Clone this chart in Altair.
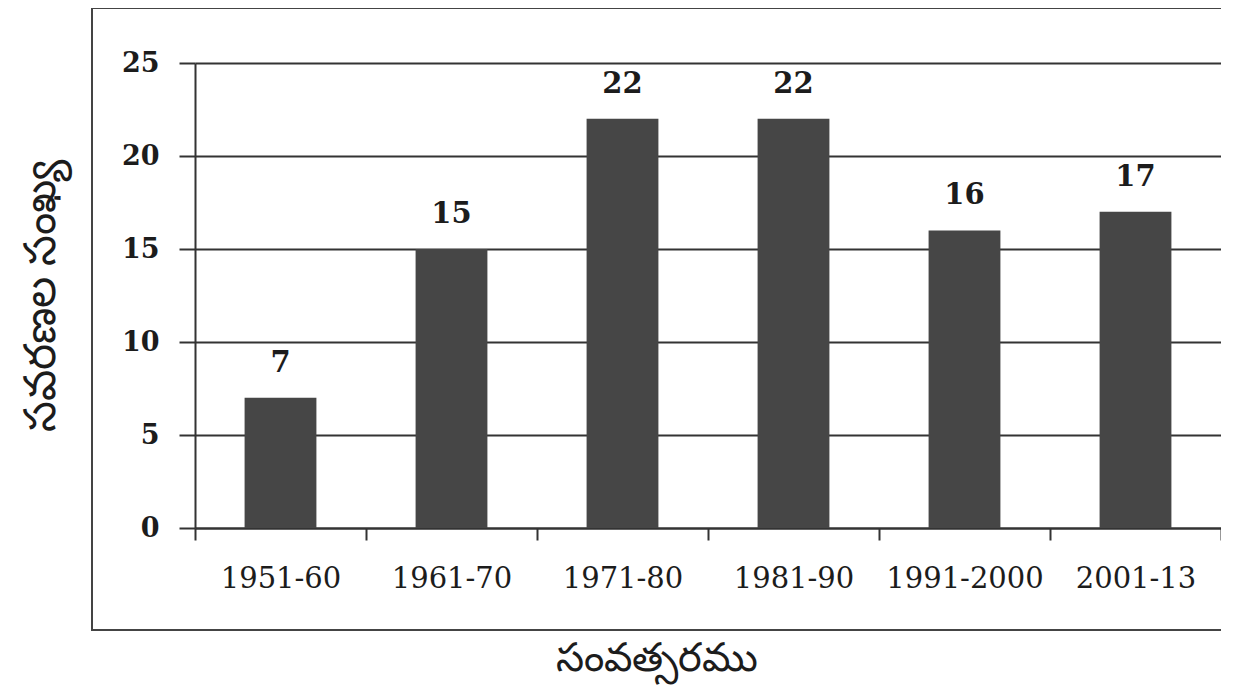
import altair as alt
import pandas as pd

periods = ["1951-60", "1961-70", "1971-80", "1981-90", "1991-2000", "2001-13"]
amendments = [7, 15, 22, 22, 16, 17]
y_ticks = [0, 5, 10, 15, 20, 25]

df = pd.DataFrame({"period": periods, "count": amendments})

W, H = 1026, 465
LEFT, TOP = 187, 55
SERIF = "DejaVu Serif"
INK = "#1c1c1c"

y_scale = alt.Scale(domain=[0, 25], nice=False)

x_enc = alt.X("period:N", sort=periods, title="సంవత్సరము",
              scale=alt.Scale(paddingInner=0, paddingOuter=0),
              axis=alt.Axis(labelAngle=0, labelFont=SERIF,
                            labelFontSize=29, labelColor=INK, labelPadding=24,
                            tickSize=12, tickColor="#333", tickWidth=2,
                            domainColor="#333", domainWidth=2, tickBand="extent",
                            titleFont="Noto Sans", titleFontSize=40,
                            titleFontWeight="normal", titleColor=INK,
                            titleX=W * 0.45, titleY=130, titleBaseline="middle",
                            titleAlign="center"))
y_enc = alt.Y("count:Q", title="సవరణల సంఖ్య", scale=y_scale,
              axis=alt.Axis(values=y_ticks, grid=True, gridColor="#333", gridWidth=2,
                            labelFont=SERIF, labelFontSize=27, labelFontWeight="bold",
                            labelColor=INK, labelPadding=20,
                            tickSize=16, tickColor="#333", tickWidth=2,
                            domainColor="#333", domainWidth=2,
                            titleFont="Noto Sans", titleFontSize=44,
                            titleFontWeight="normal", titleColor=INK,
                            titleX=-154, titleY=H / 2, titleBaseline="middle",
                            titleAlign="center", titleAngle=-90))

bars = alt.Chart(df).mark_bar(color="#464646", width={"band": 0.42}).encode(x=x_enc, y=y_enc)
labels = alt.Chart(df).mark_text(font=SERIF, fontSize=29, fontWeight="bold",
                                 color=INK, dy=-26, baseline="alphabetic").encode(
    x=alt.X("period:N", sort=periods), y=alt.Y("count:Q", scale=y_scale), text="count:Q")

frame = alt.Chart(df).mark_rect(fill=None, stroke="#444", strokeWidth=2, clip=False).encode(
    x=alt.value(-103), x2=alt.value(1100), y=alt.value(-55), y2=alt.value(567))

chart = alt.layer(bars, labels, frame).properties(
    width=W, height=H, autosize=alt.AutoSizeParams(type="none"),
    padding={"left": LEFT, "top": TOP, "right": 0, "bottom": 160},
    background="white"
).configure_view(stroke=None)

chart.save("out.html", embed_options={"renderer": "svg", "actions": False})
